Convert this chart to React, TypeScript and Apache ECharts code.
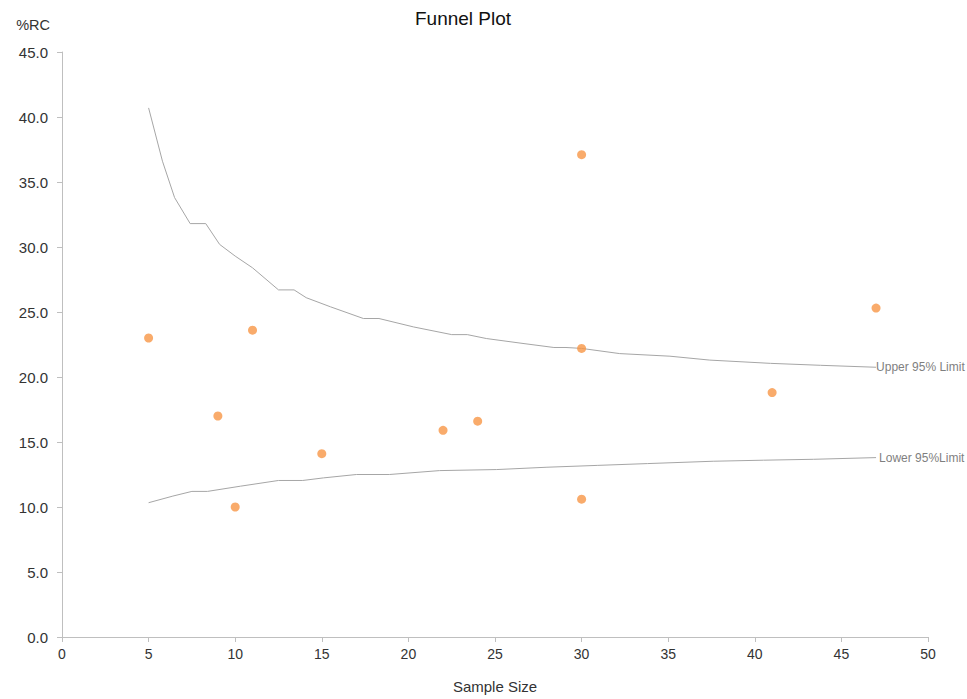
import React, { useEffect, useRef } from "react";
import * as echarts from "echarts";

const xTicks = [0, 50, 5];
const yTicks = [0, 45, 5];

const sampleSizes = [5, 9, 10, 11, 15, 22, 24, 30, 30, 30, 41, 47];
const rcValues = [23.0, 17.0, 10.0, 23.6, 14.1, 15.9, 16.6, 37.1, 22.2, 10.6, 18.8, 25.3];

const upperX = [5, 5.8, 6.5, 7.4, 8.3, 9.1, 10, 11, 12.5, 13.4, 14.1, 15.5, 17.4, 18.3, 20.3, 22.5, 23.4, 24.5, 26.5, 28.4, 29.1, 30, 32.2, 35.1, 37.4, 40.9, 43.8, 47];
const upperY = [40.7, 36.6, 33.8, 31.8, 31.8, 30.2, 29.3, 28.4, 26.7, 26.7, 26.1, 25.4, 24.5, 24.5, 23.85, 23.26, 23.26, 22.96, 22.6, 22.27, 22.27, 22.2, 21.8, 21.6, 21.3, 21.05, 20.9, 20.75];

const lowerX = [5, 6.4, 7.5, 8.4, 10.3, 12.5, 13.9, 15.1, 17, 18.9, 21.8, 25.1, 28, 30.9, 33.8, 37.6, 40.5, 43.4, 47];
const lowerY = [10.33, 10.84, 11.2, 11.2, 11.6, 12.04, 12.04, 12.24, 12.5, 12.5, 12.8, 12.88, 13.06, 13.2, 13.34, 13.52, 13.6, 13.67, 13.8];

const FONT = "'Liberation Sans', Arial, sans-serif";

export default function App() {
  const ref = useRef<HTMLDivElement>(null);
  useEffect(() => {
    if (!ref.current) return;
    const chart = echarts.init(ref.current, null, { renderer: "svg" });
    const axisColor = "#bfbfbf";
    chart.setOption({
      animation: false,
      backgroundColor: "#ffffff",
      title: {
        text: "Funnel Plot",
        left: 410,
        top: 4,
        textStyle: { fontFamily: FONT, fontSize: 19, fontWeight: "normal", color: "#111111" },
      },
      grid: { left: 62, right: 39, top: 52, bottom: 59 },
      xAxis: {
        type: "value",
        min: xTicks[0],
        max: xTicks[1],
        interval: xTicks[2],
        name: "Sample Size",
        nameLocation: "middle",
        nameGap: 42,
        nameTextStyle: { fontFamily: FONT, fontSize: 15, color: "#333333" },
        axisLine: { show: true, lineStyle: { color: axisColor } },
        axisTick: { show: true, length: 5, lineStyle: { color: axisColor } },
        axisLabel: { fontFamily: FONT, fontSize: 14, color: "#333333", margin: 10 },
        splitLine: { show: false },
      },
      yAxis: {
        type: "value",
        min: yTicks[0],
        max: yTicks[1],
        interval: yTicks[2],
        name: "%RC",
        nameLocation: "end",
        nameGap: 20,
        nameTextStyle: { fontFamily: FONT, fontSize: 14.5, color: "#333333", align: "right", padding: [0, 12, 0, 0] },
        axisLine: { show: true, lineStyle: { color: axisColor } },
        axisTick: { show: true, length: 5, lineStyle: { color: axisColor } },
        axisLabel: {
          fontFamily: FONT,
          fontSize: 15,
          color: "#333333",
          margin: 14,
          formatter: (v: number) => v.toFixed(1),
        },
        splitLine: { show: false },
      },
      series: [
        {
          type: "line",
          name: "Upper 95% Limit",
          data: upperX.map((x, i) => [x, upperY[i]]),
          showSymbol: false,
          symbol: "none",
          lineStyle: { color: "#a6a6a6", width: 1 },
          endLabel: {
            show: true,
            formatter: "Upper 95% Limit",
            fontFamily: FONT,
            fontSize: 12,
            color: "#7f7f7f",
            distance: 0,
          },
          z: 1,
        },
        {
          type: "line",
          name: "Lower 95%Limit",
          data: lowerX.map((x, i) => [x, lowerY[i]]),
          showSymbol: false,
          symbol: "none",
          lineStyle: { color: "#a6a6a6", width: 1 },
          endLabel: {
            show: true,
            formatter: "Lower 95%Limit",
            fontFamily: FONT,
            fontSize: 12,
            color: "#7f7f7f",
            distance: 3,
          },
          z: 1,
        },
        {
          type: "scatter",
          name: "%RC",
          data: sampleSizes.map((x, i) => [x, rcValues[i]]),
          symbol: "circle",
          symbolSize: 9,
          itemStyle: { color: "#f79646" },
          z: 3,
        },
      ],
    });
    return () => chart.dispose();
  }, []);
  return (
    <div
      ref={ref}
      style={{ position: "absolute", left: 0, top: 0, width: 967, height: 699 }}
    />
  );
}
